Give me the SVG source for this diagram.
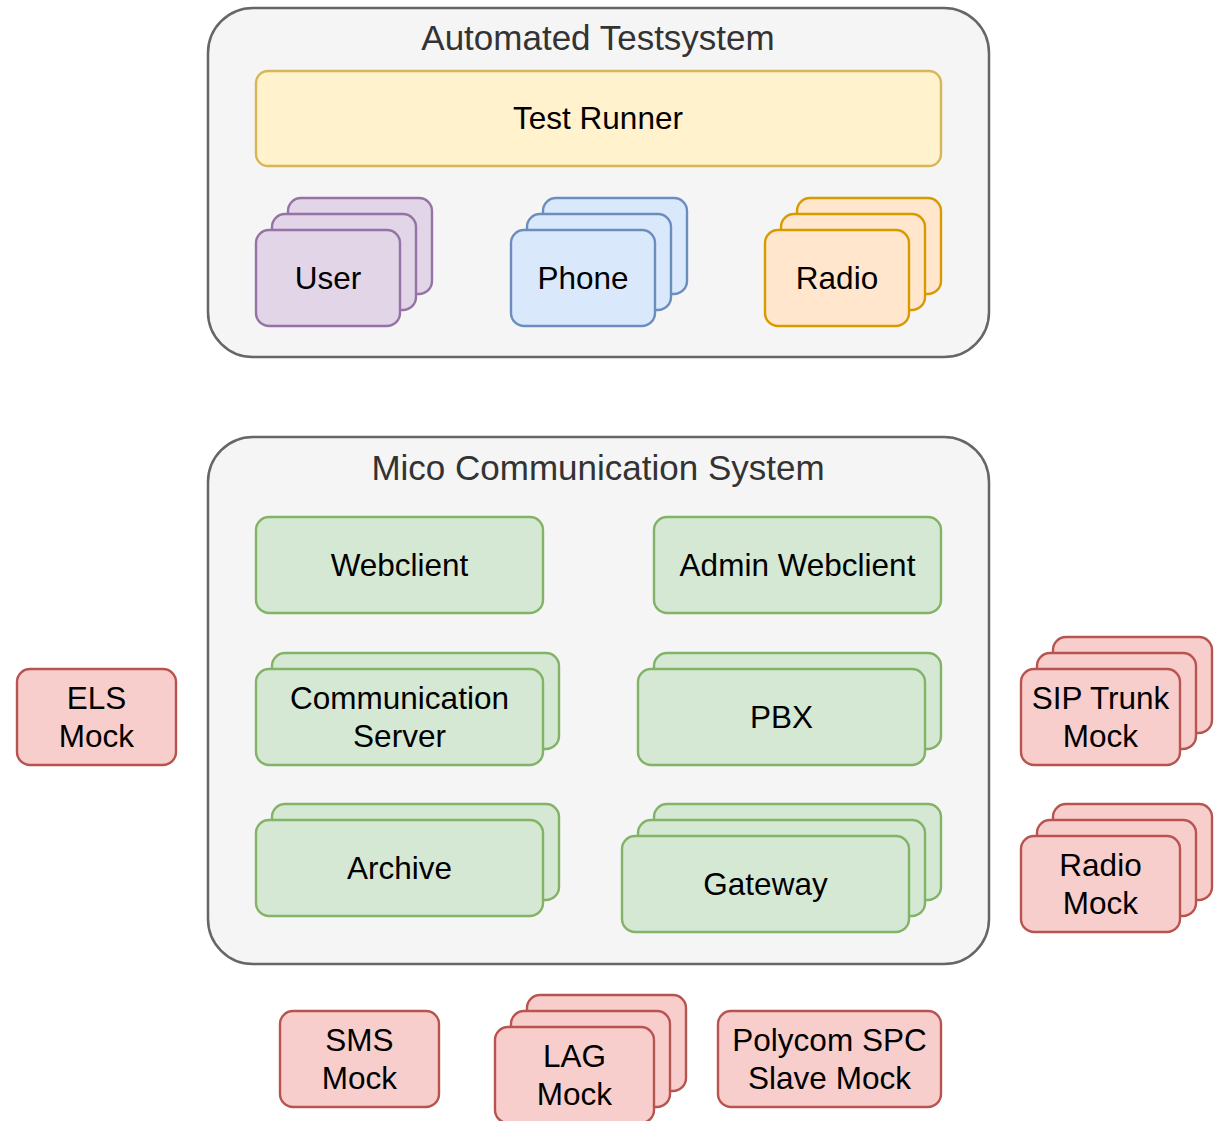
<svg xmlns="http://www.w3.org/2000/svg" width="1222" height="1121" viewBox="0 0 1222 1121">
<style>
.cont{fill:#f5f5f5;stroke:#666666;stroke-width:2.5}
.title{font-family:"Liberation Sans",Arial,sans-serif;font-size:35px;fill:#333333;text-anchor:middle}
.t{font-family:"Liberation Sans",Arial,sans-serif;font-size:31.5px;fill:#000000;text-anchor:middle}
.yellow{fill:#fff2cc;stroke:#d6b656;stroke-width:2.4}
.purple{fill:#e1d5e7;stroke:#9673a6;stroke-width:2.4}
.blue{fill:#dae8fc;stroke:#6c8ebf;stroke-width:2.4}
.orange{fill:#ffe6cc;stroke:#d79b00;stroke-width:2.4}
.green{fill:#d5e8d4;stroke:#82b366;stroke-width:2.4}
.red{fill:#f8cecc;stroke:#b85450;stroke-width:2.4}
</style>
<rect width="1222" height="1121" fill="#ffffff"/>

<g id="automated-testsystem">
<rect class="cont" x="208" y="8" width="781" height="349" rx="45"/>
<text class="title" x="598" y="50">Automated Testsystem</text>
</g>
<g id="test-runner">
<rect class="yellow" x="256" y="71" width="685" height="95" rx="12"/>
<text class="t" x="598" y="129">Test Runner</text>
</g>
<g id="user">
<rect class="purple" x="288" y="198" width="144" height="96" rx="13"/>
<rect class="purple" x="272" y="214" width="144" height="96" rx="13"/>
<rect class="purple" x="256" y="230" width="144" height="96" rx="13"/>
<text class="t" x="328" y="289">User</text>
</g>
<g id="phone">
<rect class="blue" x="543" y="198" width="144" height="96" rx="13"/>
<rect class="blue" x="527" y="214" width="144" height="96" rx="13"/>
<rect class="blue" x="511" y="230" width="144" height="96" rx="13"/>
<text class="t" x="583" y="289">Phone</text>
</g>
<g id="radio">
<rect class="orange" x="797" y="198" width="144" height="96" rx="13"/>
<rect class="orange" x="781" y="214" width="144" height="96" rx="13"/>
<rect class="orange" x="765" y="230" width="144" height="96" rx="13"/>
<text class="t" x="837" y="289">Radio</text>
</g>

<g id="mico-communication-system">
<rect class="cont" x="208" y="437" width="781" height="527" rx="45"/>
<text class="title" x="598" y="480">Mico Communication System</text>
</g>
<g id="webclient">
<rect class="green" x="256" y="517" width="287" height="96" rx="13"/>
<text class="t" x="399.5" y="576">Webclient</text>
</g>
<g id="admin-webclient">
<rect class="green" x="654" y="517" width="287" height="96" rx="13"/>
<text class="t" x="797.5" y="576">Admin Webclient</text>
</g>
<g id="communication-server">
<rect class="green" x="272" y="653" width="287" height="96" rx="13"/>
<rect class="green" x="256" y="669" width="287" height="96" rx="13"/>
<text class="t" x="399.5" y="709">Communication</text>
<text class="t" x="399.5" y="747">Server</text>
</g>
<g id="pbx">
<rect class="green" x="654" y="653" width="287" height="96" rx="13"/>
<rect class="green" x="638" y="669" width="287" height="96" rx="13"/>
<text class="t" x="781.5" y="728">PBX</text>
</g>
<g id="archive">
<rect class="green" x="272" y="804" width="287" height="96" rx="13"/>
<rect class="green" x="256" y="820" width="287" height="96" rx="13"/>
<text class="t" x="399.5" y="879">Archive</text>
</g>
<g id="gateway">
<rect class="green" x="654" y="804" width="287" height="96" rx="13"/>
<rect class="green" x="638" y="820" width="287" height="96" rx="13"/>
<rect class="green" x="622" y="836" width="287" height="96" rx="13"/>
<text class="t" x="765.5" y="895">Gateway</text>
</g>

<g id="els-mock">
<rect class="red" x="17" y="669" width="159" height="96" rx="13"/>
<text class="t" x="96.5" y="709">ELS</text>
<text class="t" x="96.5" y="747">Mock</text>
</g>
<g id="sip-trunk-mock">
<rect class="red" x="1053" y="637" width="159" height="96" rx="13"/>
<rect class="red" x="1037" y="653" width="159" height="96" rx="13"/>
<rect class="red" x="1021" y="669" width="159" height="96" rx="13"/>
<text class="t" x="1100.5" y="709">SIP Trunk</text>
<text class="t" x="1100.5" y="747">Mock</text>
</g>
<g id="radio-mock">
<rect class="red" x="1053" y="804" width="159" height="96" rx="13"/>
<rect class="red" x="1037" y="820" width="159" height="96" rx="13"/>
<rect class="red" x="1021" y="836" width="159" height="96" rx="13"/>
<text class="t" x="1100.5" y="876">Radio</text>
<text class="t" x="1100.5" y="914">Mock</text>
</g>
<g id="sms-mock">
<rect class="red" x="280" y="1011" width="159" height="96" rx="13"/>
<text class="t" x="359.5" y="1051">SMS</text>
<text class="t" x="359.5" y="1089">Mock</text>
</g>
<g id="lag-mock">
<rect class="red" x="527" y="995" width="159" height="96" rx="13"/>
<rect class="red" x="511" y="1011" width="159" height="96" rx="13"/>
<rect class="red" x="495" y="1027" width="159" height="96" rx="13"/>
<text class="t" x="574.5" y="1067">LAG</text>
<text class="t" x="574.5" y="1105">Mock</text>
</g>
<g id="polycom-spc-slave-mock">
<rect class="red" x="718" y="1011" width="223" height="96" rx="13"/>
<text class="t" x="829.5" y="1051">Polycom SPC</text>
<text class="t" x="829.5" y="1089">Slave Mock</text>
</g>

<g id="connectors"></g>
</svg>
